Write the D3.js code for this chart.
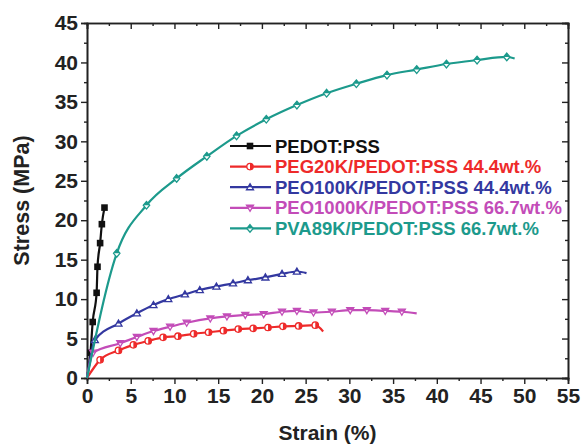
<!DOCTYPE html>
<html>
<head>
<meta charset="utf-8">
<script src="https://cdnjs.cloudflare.com/ajax/libs/d3/7.8.5/d3.min.js"></script>
<style>
  body { margin: 0; background: #fff; }
  svg { font-family: "Liberation Sans", Arial, sans-serif; font-weight: bold; }
</style>
</head>
<body>
<svg id="chart" width="582" height="447"></svg>
<script>
// series values: [strain %, stress MPa]
var pedot = [[0,0],[0.4,3.2],[0.65,7.1],[1.1,10.8],[1.2,14.1],[1.5,17.1],[1.7,19.5],[2.0,21.6]];
var peg20k = [[0,0],[1.5,2.3],[3.6,3.5],[5.3,4.2],[7.0,4.7],[8.7,5.15],[10.4,5.3],[12.2,5.6],[13.9,5.8],[15.6,6.0],[17.3,6.2],[19.0,6.3],[20.7,6.4],[22.4,6.55],[24.2,6.6],[26.1,6.7],[27.0,5.9]];
var peo100k = [[0,0],[0.9,4.8],[3.6,6.9],[5.7,8.2],[7.6,9.25],[9.3,10.0],[11.2,10.6],[12.9,11.15],[14.8,11.6],[16.7,12.0],[18.4,12.4],[20.4,12.75],[22.3,13.2],[24.0,13.5],[25.1,13.3]];
var peo1000k = [[0,0],[0.7,3.2],[3.8,4.4],[5.7,5.2],[7.6,5.95],[9.5,6.5],[11.4,7.0],[14.1,7.55],[16.0,7.8],[18.1,8.0],[20.2,8.1],[22.3,8.4],[24.0,8.5],[25.9,8.3],[28.0,8.4],[30.1,8.6],[32.0,8.6],[34.1,8.5],[36.0,8.4],[37.7,8.2]];
var pva89k = [[0,0],[3.4,15.8],[6.8,21.9],[10.25,25.3],[13.7,28.1],[17.1,30.7],[20.5,32.8],[24.0,34.6],[27.4,36.1],[30.8,37.3],[34.3,38.4],[37.7,39.1],[41.1,39.8],[44.6,40.3],[48.0,40.7],[48.9,40.5]];

var seriesNames = ["PEDOT:PSS", "PEG20K/PEDOT:PSS 44.4wt.%", "PEO100K/PEDOT:PSS 44.4wt.%",
                   "PEO1000K/PEDOT:PSS 66.7wt.%", "PVA89K/PEDOT:PSS 66.7wt.%"];
var seriesData = [pedot, peg20k, peo100k, peo1000k, pva89k];
var seriesColors = ["#111111", "#ee2a2a", "#3338a0", "#c34cb8", "#1c9a8c"];
var seriesShapes = ["square", "circle", "up", "down", "diamond"];

var xTicks = [0,5,10,15,20,25,30,35,40,45,50,55];
var yTicks = [0,5,10,15,20,25,30,35,40,45];

var margin = {left: 87, top: 23, right: 14, bottom: 69};
var svg = d3.select("#chart"),
    width = +svg.attr("width") - margin.left - margin.right,
    height = +svg.attr("height") - margin.top - margin.bottom;

var x = d3.scaleLinear().domain([0, 55]).range([0, width]);
var y = d3.scaleLinear().domain([0, 45]).range([height, 0]);

var g = svg.append("g").attr("transform", "translate(" + margin.left + "," + margin.top + ")");

// clip paths for half filled markers
var defs = svg.append("defs");
defs.append("clipPath").attr("id", "topHalf").append("rect")
    .attr("x", -10).attr("y", -10).attr("width", 20).attr("height", 10);
defs.append("clipPath").attr("id", "rightHalf").append("rect")
    .attr("x", 0).attr("y", -10).attr("width", 10).attr("height", 20);

// minor ticks every 2.5 units
var xMinor = d3.range(2.5, 55, 5);
var yMinor = d3.range(2.5, 45, 5);

function drawAxes() {
    g.append("g").attr("transform", "translate(0," + height + ")")
        .call(d3.axisBottom(x).tickValues(xTicks).tickSize(6).tickPadding(4));
    g.append("g").attr("transform", "translate(0," + height + ")")
        .call(d3.axisBottom(x).tickValues(xMinor).tickSize(3).tickFormat(""));
    g.append("g")
        .call(d3.axisLeft(y).tickValues(yTicks).tickSize(6).tickPadding(3));
    g.append("g").call(d3.axisLeft(y).tickValues(yMinor).tickSize(3).tickFormat(""));
    // mirrored top and right, ticks pointing in
    g.append("g").call(d3.axisTop(x).tickValues(xTicks).tickSize(-6).tickFormat(""));
    g.append("g").call(d3.axisTop(x).tickValues(xMinor).tickSize(-3).tickFormat(""));
    g.append("g").attr("transform", "translate(" + width + ",0)")
        .call(d3.axisRight(y).tickValues(yTicks).tickSize(-6).tickFormat(""));
    g.append("g").attr("transform", "translate(" + width + ",0)")
        .call(d3.axisRight(y).tickValues(yMinor).tickSize(-3).tickFormat(""));

    g.selectAll(".domain").attr("stroke", "#222").attr("stroke-width", 1.6);
    g.selectAll(".tick line").attr("stroke", "#222").attr("stroke-width", 1.4);
    g.selectAll(".tick text").attr("font-size", 21).attr("font-weight", "bold")
        .attr("font-family", "Liberation Sans, Arial, sans-serif").attr("fill", "#222");
}
drawAxes();

// axis titles
svg.append("text")
    .attr("x", margin.left + width / 2).attr("y", 440)
    .attr("text-anchor", "middle").attr("font-size", 21).attr("fill", "#222")
    .text("Strain (%)");
svg.append("text")
    .attr("transform", "translate(29," + (margin.top + height / 2) + ") rotate(-90)")
    .attr("text-anchor", "middle").attr("font-size", 21.5).attr("fill", "#222")
    .text("Stress (MPa)");

function shapePath(type, s) {
    if (type == "square") return "M" + (-s) + "," + (-s) + "h" + (2*s) + "v" + (2*s) + "h" + (-2*s) + "Z";
    if (type == "circle") return d3.arc()({innerRadius: 0, outerRadius: s, startAngle: 0, endAngle: 2*Math.PI});
    if (type == "up") return "M0," + (-s*1.1) + "L" + (s*1.1) + "," + (s*0.8) + "L" + (-s*1.1) + "," + (s*0.8) + "Z";
    if (type == "down") return "M0," + (s*1.1) + "L" + (s*1.1) + "," + (-s*0.8) + "L" + (-s*1.1) + "," + (-s*0.8) + "Z";
    return "M0," + (-s*1.2) + "L" + s + ",0L0," + (s*1.2) + "L" + (-s) + ",0Z";
}

function drawMarker(sel, type, color) {
    var s = type == "square" ? 3.3 : 3.2;
    if (type == "square") {
        sel.append("path").attr("d", shapePath(type, s)).attr("fill", color);
        return;
    }
    sel.append("path").attr("d", shapePath(type, s))
        .attr("fill", "#fff").attr("stroke", color).attr("stroke-width", 1.3);
    sel.append("path").attr("d", shapePath(type, s))
        .attr("fill", color)
        .attr("clip-path", type == "circle" ? "url(#rightHalf)" : "url(#topHalf)");
}

var line = d3.line()
    .x(function(d) { return x(d[0]); })
    .y(function(d) { return y(d[1]); })
    .curve(d3.curveMonotoneX);

seriesData.forEach(function(data, i) {
    g.append("path").datum(data)
        .attr("fill", "none").attr("stroke", seriesColors[i]).attr("stroke-width", 2.2)
        .attr("d", line);
    // no marker at the origin, nor at the break point of the filled samples
    var marked = data.filter(function(d, j) {
        return d[0] > 0 && (i == 0 || j < data.length - 1);
    });
    g.selectAll(".m" + i).data(marked)
        .enter().append("g").attr("class", "m" + i)
        .attr("transform", function(d) { return "translate(" + x(d[0]) + "," + y(d[1]) + ")"; })
        .each(function() { drawMarker(d3.select(this), seriesShapes[i], seriesColors[i]); });
});

// legend
var legend = svg.append("g").attr("transform", "translate(230,146)");
seriesNames.forEach(function(name, i) {
    var row = legend.append("g").attr("transform", "translate(0," + (i * 20.6) + ")");
    row.append("line").attr("x1", 0).attr("x2", 41).attr("y1", 0).attr("y2", 0)
        .attr("stroke", seriesColors[i]).attr("stroke-width", 2.2);
    drawMarker(row.append("g").attr("transform", "translate(20,0)"), seriesShapes[i], seriesColors[i]);
    row.append("text").attr("x", 45).attr("y", 6.5)
        .attr("font-size", 18.5).attr("fill", seriesColors[i])
        .text(name);
});
</script>
</body>
</html>
